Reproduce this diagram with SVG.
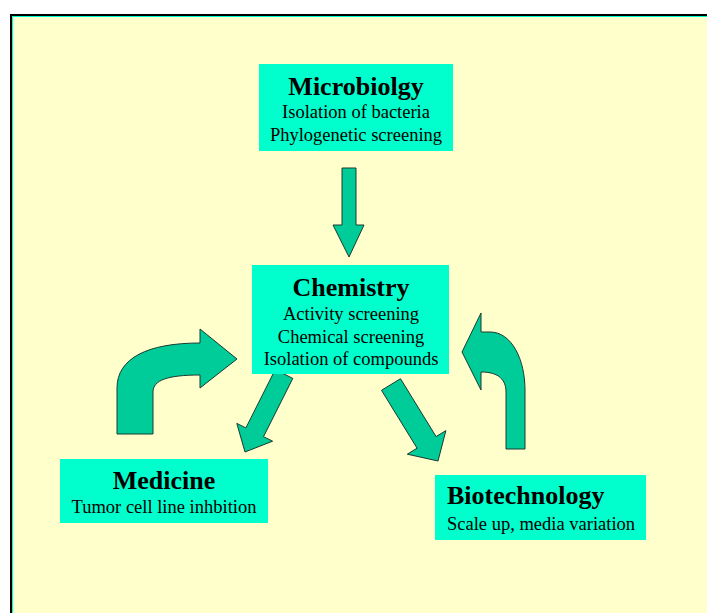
<svg xmlns="http://www.w3.org/2000/svg" width="707" height="613" viewBox="0 0 707 613">
<style>
.box{fill:#00FFCC;}
.t{font-family:"Liberation Serif","Times New Roman",serif;font-size:26px;font-weight:bold;fill:#000;}
.s{font-family:"Liberation Serif","Times New Roman",serif;font-size:18.5px;fill:#000;}
.c{text-anchor:middle;}
.arr{fill:#00CC99;stroke:#1a3a30;stroke-width:1;stroke-linejoin:miter;}
</style>
<rect x="0" y="0" width="707" height="613" fill="#FFFFFF"/>
<rect x="11" y="15" width="730" height="640" fill="#FFFFCC" stroke="#000" stroke-width="2"/>
<path d="M12.5,640 L12.5,16.5 L720,16.5" fill="none" stroke="#00FFCC" stroke-width="1"/>
<g id="connectors">
<path class="arr" d="M342,168 L356,168 L356,225 L364,225 L349,257 L333,225 L342,225 Z"/>
<path class="arr" d="M275.2,369.6 L292.8,378.4 L263.5,436.7 L272.6,441.2 L245,452 L236.8,423.4 L245.9,427.9 Z"/>
<path class="arr" d="M381.5,390.3 L400.5,378.7 L436.1,436.6 L445.9,430.6 L438,461 L407.3,454.2 L417.1,448.2 Z"/>
<path class="arr" d="M117,434 L117,388 C117,358 148,343 200,343 L200,329 L237,359 L200,388 L200,375 C168,375 153,380 153,392 L153,434 Z"/>
<path class="arr" d="M506,449 L506,392 C506,380 499,372 481,372 L481,390 L462,352 L481,313 L481,332 L490,332 C512,332 525,360 525,390 L525,449 Z"/>
</g>
<g id="microbiology">
<rect class="box" x="259" y="64" width="194" height="87"/>
<text class="t c" x="356" y="95">Microbiolgy</text>
<text class="s c" x="356" y="118">Isolation of bacteria</text>
<text class="s c" x="356" y="141">Phylogenetic screening</text>
</g>
<g id="chemistry">
<rect class="box" x="252" y="265" width="197" height="109"/>
<text class="t c" x="351" y="296">Chemistry</text>
<text class="s c" x="351" y="320">Activity screening</text>
<text class="s c" x="351" y="343">Chemical screening</text>
<text class="s c" x="351" y="365">Isolation of compounds</text>
</g>
<g id="medicine">
<rect class="box" x="60" y="459" width="208" height="64"/>
<text class="t c" x="164" y="489">Medicine</text>
<text class="s c" x="164" y="513">Tumor cell line inhbition</text>
</g>
<g id="biotechnology">
<rect class="box" x="435" y="475" width="211" height="65"/>
<text class="t" x="447" y="504">Biotechnology</text>
<text class="s" x="447" y="530">Scale up, media variation</text>
</g>
</svg>
